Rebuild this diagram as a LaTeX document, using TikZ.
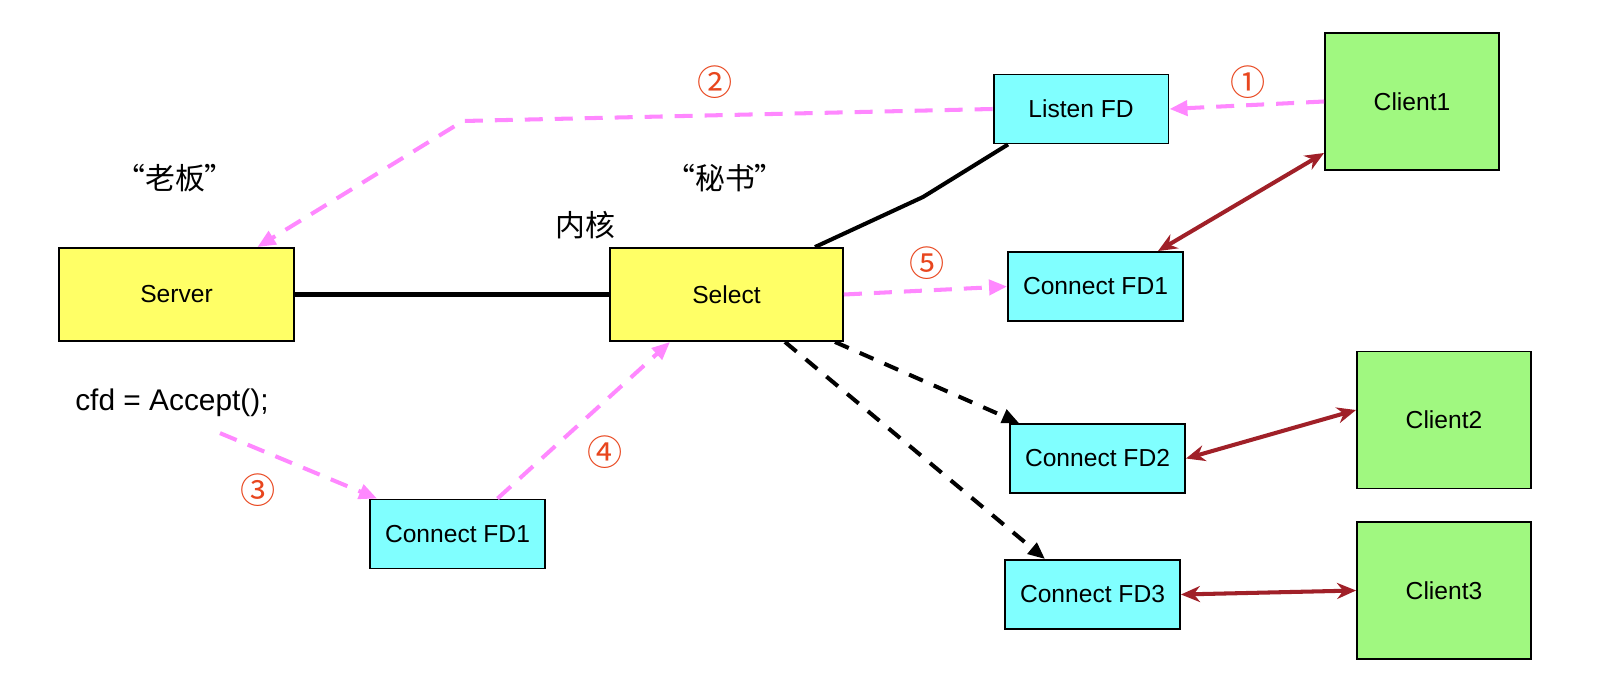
\documentclass[tikz,border=0pt]{standalone}
\usepackage{fontspec}
\setmainfont{Liberation Sans}
\newfontfamily\cjk{Noto Sans CJK SC}
\usetikzlibrary{positioning, arrows.meta, calc}
\definecolor{boxyellow}{RGB}{255,255,102}
\definecolor{fdcyan}{RGB}{128,255,255}
\definecolor{clientgreen}{RGB}{160,248,128}
\definecolor{flowpink}{RGB}{255,136,255}
\definecolor{linkred}{RGB}{160,32,40}
\definecolor{numorange}{RGB}{232,70,30}
\tikzset{
    corebox/.style={draw, line width=1.1pt, fill=boxyellow, minimum width=4.7cm, minimum height=1.86cm, font=\fontsize{14}{16}\selectfont},
    fdbox/.style={draw, line width=1.1pt, fill=fdcyan, minimum width=3.5cm, minimum height=1.38cm, font=\fontsize{14}{16}\selectfont},
    clientbox/.style={draw, line width=1.1pt, fill=clientgreen, minimum width=3.48cm, minimum height=2.74cm, font=\fontsize{14}{16}\selectfont},
    flow/.style={flowpink, line width=2.3pt, dash pattern=on 0.36cm off 0.24cm, -{Triangle[length=0.36cm, width=0.3cm]}},
    dispatch/.style={black, line width=2.3pt, dash pattern=on 0.3cm off 0.24cm, -{Triangle[length=0.34cm, width=0.28cm]}},
    link/.style={linkred, line width=2.3pt, {Stealth[length=0.38cm, width=0.32cm]}-{Stealth[length=0.38cm, width=0.32cm]}},
    step num/.style={numorange, font=\cjk\fontsize{20}{22}\selectfont},
}
\begin{document}
\begin{tikzpicture}[x=0.02cm, y=-0.02cm]
    \useasboundingbox (0,0) rectangle (1604,696);
    % boxes
    \node[corebox](server) at (176.5,294.5){Server};
    \node[corebox, minimum width=4.66cm](select) at (726.5,294.5){Select};
    \node[fdbox](listen) at (1081,109){Listen FD};
    \node[fdbox](cfdr) at (1095.5,286.5){Connect FD1};
    \node[fdbox](cfdtwo) at (1097.5,458.5){Connect FD2};
    \node[fdbox](cfdthree) at (1092.5,594.5){Connect FD3};
    \node[fdbox](cfdb) at (457.5,534){Connect FD1};
    \node[clientbox](clientone) at (1412,101.5){Client1};
    \node[clientbox](clienttwo) at (1444,420){Client2};
    \node[clientbox](clientthree) at (1444,590.5){Client3};
    % labels
    \node(boss) at (175,178){\cjk\fontsize{17}{19}\selectfont “老板”};
    \node(secretary) at (725,178){\cjk\fontsize{17}{19}\selectfont “秘书”};
    \node(kernel) at (585,225){\cjk\fontsize{17}{19}\selectfont 内核};
    \node(accept) at (172,403){\fontsize{17}{19}\selectfont cfd = Accept();};
    \node[step num](nA) at (1248,82){①};
    \node[step num](nB) at (715,82){②};
    \node[step num](nC) at (258,490){③};
    \node[step num](nD) at (605,452){④};
    \node[step num](nE) at (927,263){⑤};
    % connectors
    \coordinate(bendB) at (463,121);
    \coordinate(bendL) at (923,197);
    \draw[line width=2.3pt](server.east)--(select.west);
    \draw[line width=2.3pt]([xshift=1.77cm]select.north)--(bendL)--([xshift=-1.46cm]listen.south);
    \draw[flow](clientone.west)--(listen.east);
    \draw[flow](listen.west)--(bendB)--([xshift=1.62cm]server.north);
    \draw[flow](select.east)--(cfdr.west);
    \draw[flow]([xshift=0.96cm, yshift=-0.2cm]accept.south)--([xshift=0.16cm]cfdb.north west);
    \draw[flow]([xshift=0.8cm]cfdb.north)--([xshift=-1.13cm]select.south);
    \draw[dispatch]([xshift=2.17cm]select.south)--([xshift=0.2cm]cfdtwo.north west);
    \draw[dispatch]([xshift=1.17cm]select.south)--([xshift=-0.95cm]cfdthree.north);
    \draw[link]([yshift=-1.03cm]clientone.west)--([xshift=1.25cm]cfdr.north);
    \draw[link](cfdtwo.east)--([yshift=0.2cm]clienttwo.west);
    \draw[link](cfdthree.east)--(clientthree.west);
\end{tikzpicture}
\end{document}
